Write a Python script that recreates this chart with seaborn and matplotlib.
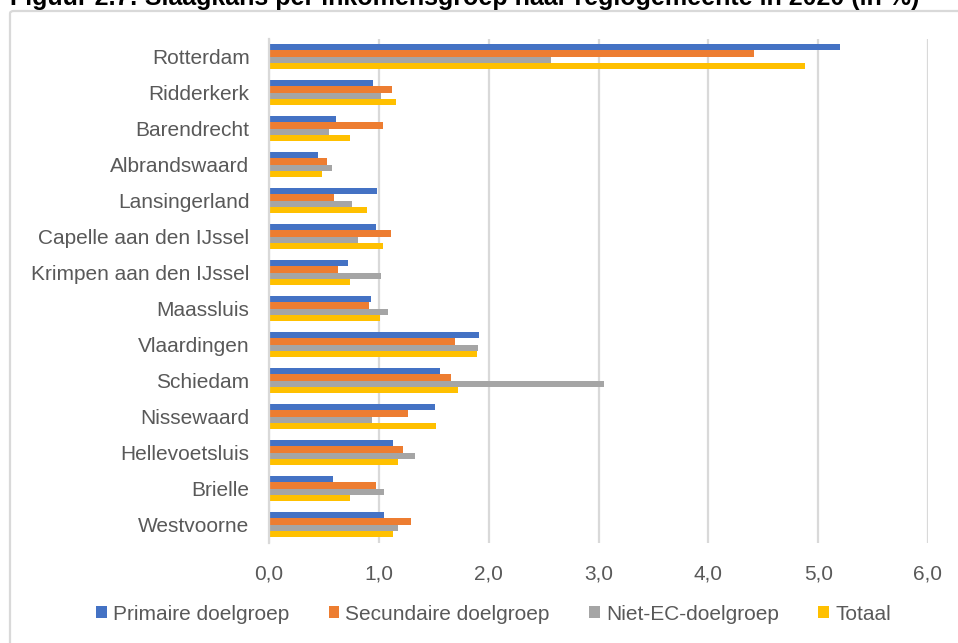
import matplotlib
matplotlib.use("Agg")
import matplotlib.pyplot as plt
from matplotlib.patches import FancyBboxPatch, Patch
import pandas as pd
import seaborn as sns

# Slaagkans per inkomensgroep per regiogemeente (in %)
gemeenten = ["Rotterdam", "Ridderkerk", "Barendrecht", "Albrandswaard",
             "Lansingerland", "Capelle aan den IJssel", "Krimpen aan den IJssel",
             "Maassluis", "Vlaardingen", "Schiedam", "Nissewaard",
             "Hellevoetsluis", "Brielle", "Westvoorne"]
primair = [5.20, 0.95, 0.61, 0.45, 0.98, 0.97, 0.72, 0.93, 1.91, 1.56, 1.51, 1.13, 0.58, 1.05]
secundair = [4.42, 1.12, 1.04, 0.53, 0.59, 1.11, 0.63, 0.91, 1.69, 1.66, 1.27, 1.22, 0.97, 1.29]
niet_ec = [2.57, 1.02, 0.55, 0.57, 0.76, 0.81, 1.02, 1.08, 1.90, 3.05, 0.94, 1.33, 1.05, 1.17]
totaal = [4.88, 1.16, 0.74, 0.48, 0.89, 1.04, 0.74, 1.01, 1.89, 1.72, 1.52, 1.17, 0.74, 1.13]

groepen = ["Primaire doelgroep", "Secundaire doelgroep", "Niet-EC-doelgroep", "Totaal"]
kleuren = ["#4472C4", "#ED7D31", "#A5A5A5", "#FFC000"]
xticks = [0, 1, 2, 3, 4, 5, 6]
xlabels = ["0,0", "1,0", "2,0", "3,0", "4,0", "5,0", "6,0"]

reeksen = [primair, secundair, niet_ec, totaal]
df = pd.DataFrame(
    [(g, groep, v) for groep, reeks in zip(groepen, reeksen) for g, v in zip(gemeenten, reeks)],
    columns=["gemeente", "groep", "waarde"],
)

sns.set_theme(style="white")
plt.rcParams["font.family"] = ["Liberation Sans", "DejaVu Sans"]
tekst = "#595959"
raster = "#D9D9D9"

fig = plt.figure(figsize=(9.58, 6.43), dpi=100)
ax = fig.add_axes([269 / 958, 1 - 542.5 / 643, (928 - 269) / 958, (542.5 - 38.5) / 643])

sns.barplot(data=df, x="waarde", y="gemeente", hue="groep", orient="h",
            order=gemeenten, hue_order=groepen, palette=kleuren,
            saturation=1, width=0.68, linewidth=0, legend=False, ax=ax)

ax.set_xlim(0, 6)
ax.set_xticks(xticks)
ax.set_xticklabels(xlabels)
ax.set_xlabel("")
ax.set_ylabel("")
ax.set_axisbelow(True)
ax.xaxis.grid(True, color=raster, linewidth=1.6)
ax.yaxis.grid(False)
for side in ["top", "right", "bottom"]:
    ax.spines[side].set_visible(False)
ax.spines["left"].set_color(raster)
ax.spines["left"].set_linewidth(1.6)
ax.tick_params(axis="x", length=0, pad=16, labelsize=15, labelcolor=tekst)
ax.tick_params(axis="y", length=0, pad=14, labelsize=15, labelcolor=tekst)

handles = [Patch(facecolor=c, edgecolor="none") for c in kleuren]
fig.legend(handles, groepen, loc="center", ncol=4,
           bbox_to_anchor=(493.5 / 958, 1 - 614 / 643), frameon=False,
           fontsize=15, labelcolor=tekst, handlelength=0.5, handleheight=0.5,
           handletextpad=0.3, columnspacing=1.9, borderaxespad=0)

# kader van het diagramgebied
fig.patches.append(FancyBboxPatch((10 / 958, -0.05), 1.2, 1.05 - 11 / 643,
                                  boxstyle="round,pad=0,rounding_size=0.004",
                                  transform=fig.transFigure, facecolor="none",
                                  edgecolor=raster, linewidth=1.6, zorder=0))

fig.text(10 / 958, 1 - 5.5 / 643,
         "Figuur 2.7: Slaagkans per inkomensgroep naar regiogemeente in 2020 (in %)",
         fontsize=18, fontweight="bold", color="black", ha="left", va="baseline")

fig.savefig("out.png", dpi=100)
